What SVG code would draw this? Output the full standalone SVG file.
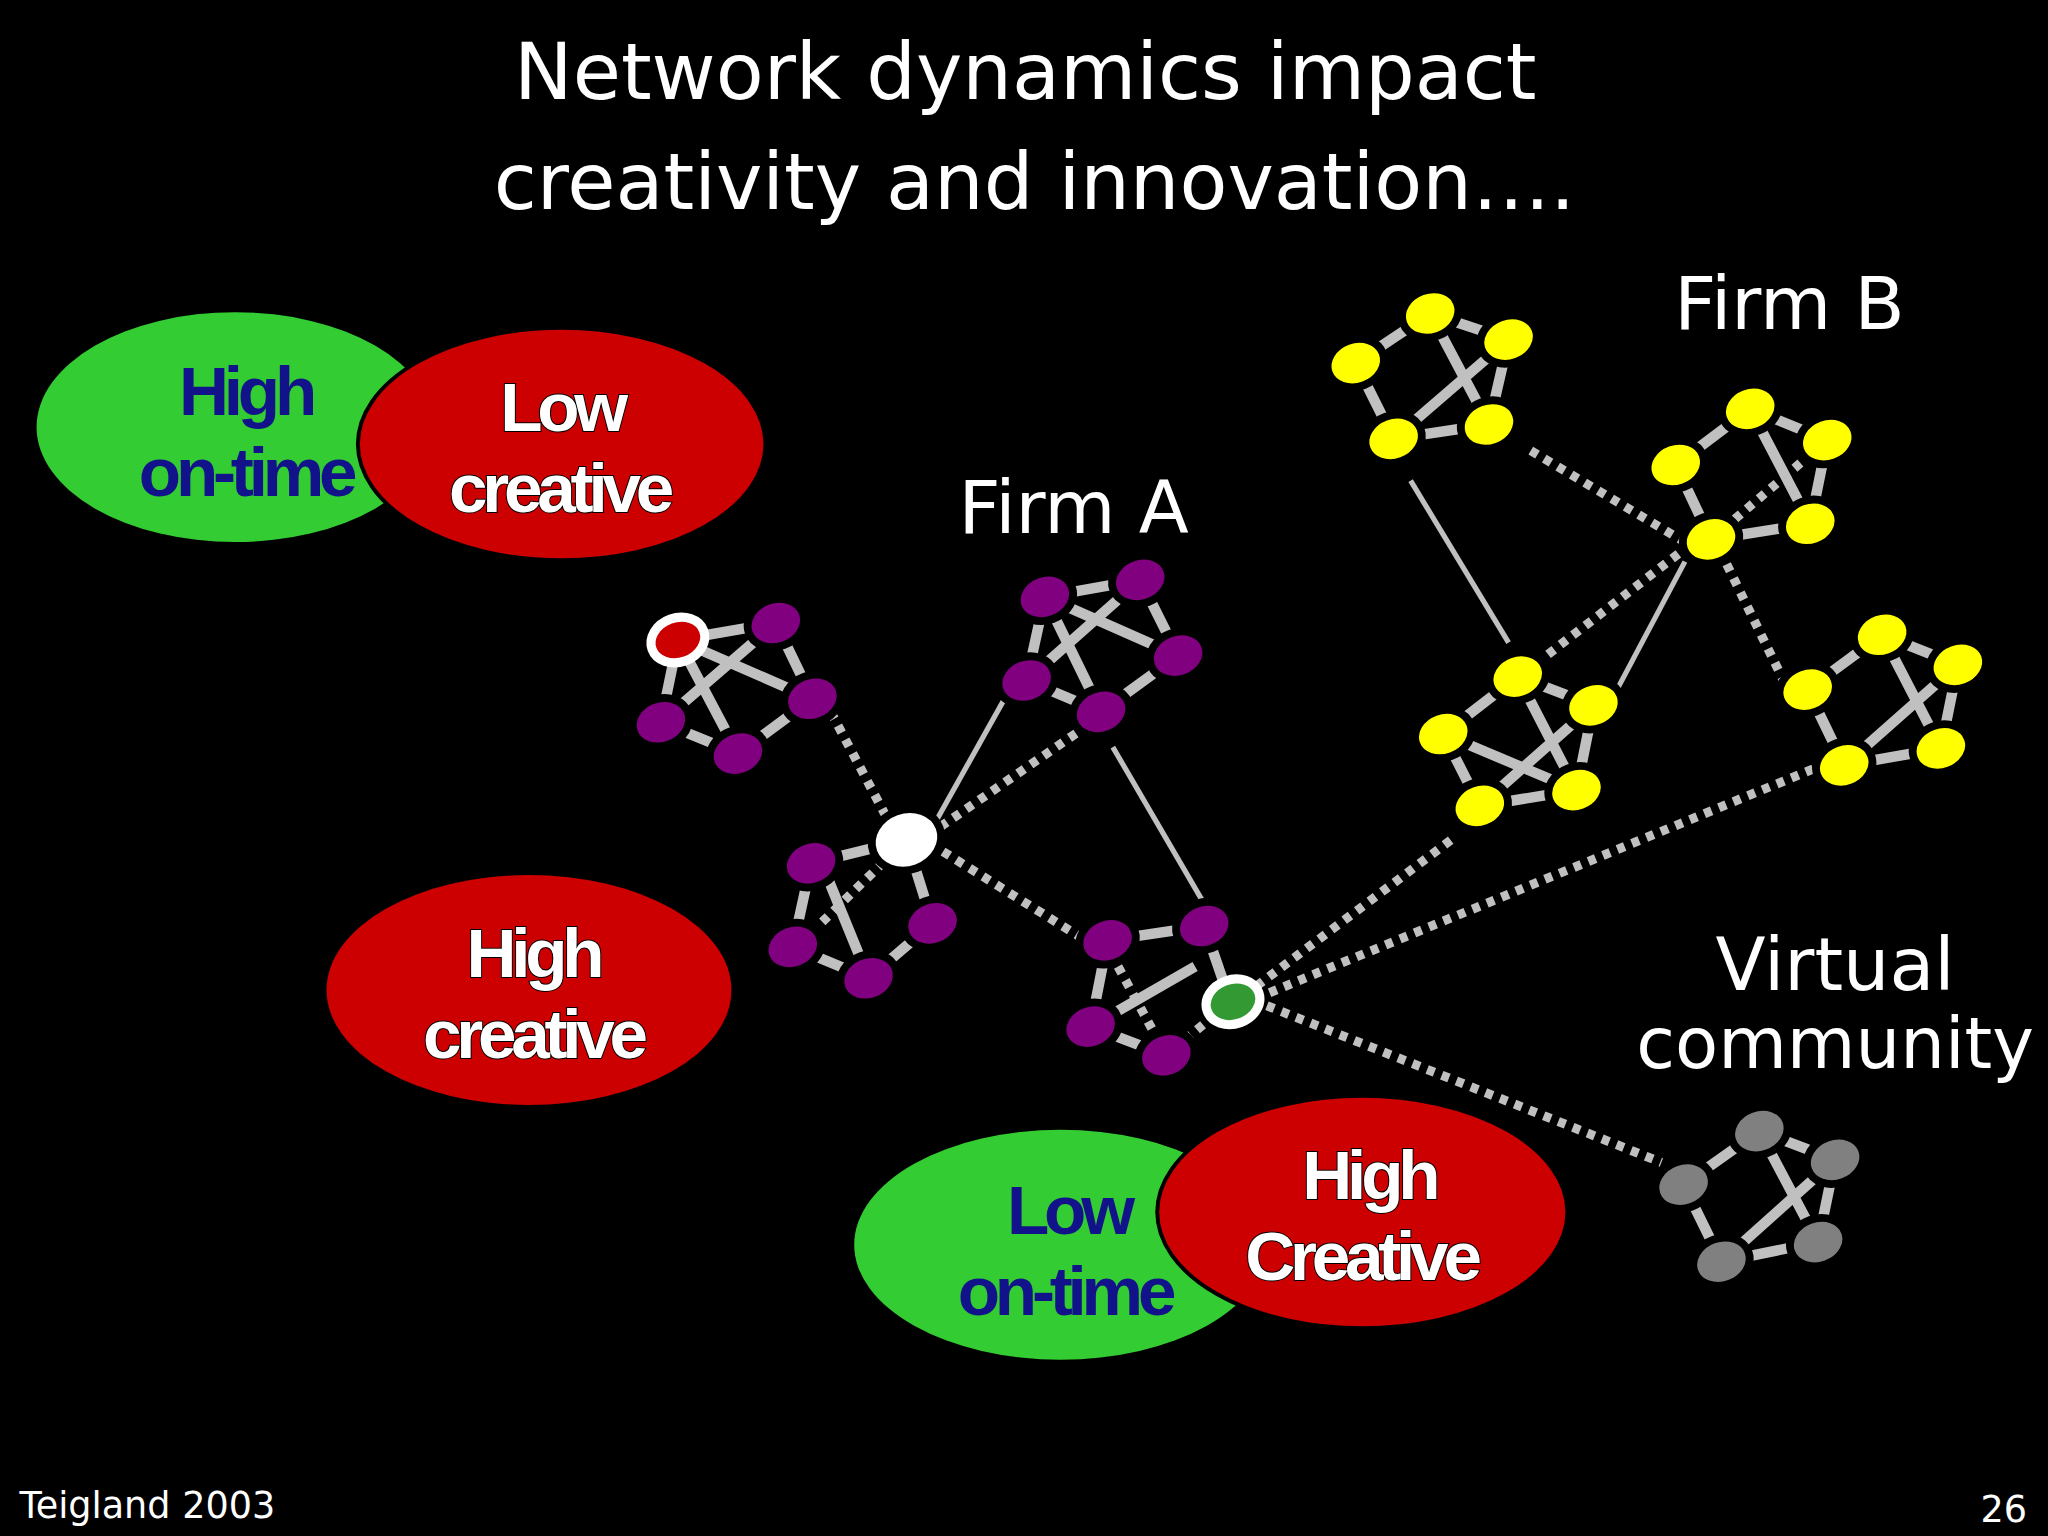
<svg xmlns="http://www.w3.org/2000/svg" width="2048" height="1536" viewBox="0 0 2048 1536">
<style>
.t{font-family:"DejaVu Sans","Liberation Sans",sans-serif;fill:#fff}
.b{font-family:"Liberation Sans",Arial,sans-serif;font-weight:bold;font-size:53px;letter-spacing:-4px;text-anchor:middle}
.w{fill:#fff;stroke:#000;stroke-width:1.5;paint-order:stroke}
.k{fill:#12128a}
.e{stroke:#c0c0c0;stroke-width:8;fill:none}
.s{stroke:#c0c0c0;stroke-width:4;fill:none}
.d{stroke:#c0c0c0;stroke-width:7;stroke-dasharray:6 6;fill:none}
.p{fill:#800080;stroke:#000;stroke-width:6}
.y{fill:#ffff00;stroke:#000;stroke-width:6}
.g{fill:#808080;stroke:#000;stroke-width:6}
</style>
<rect width="2048" height="1536" fill="#000"/>
<g transform="scale(1.30612)">
<g id="title" class="t" font-size="60" text-anchor="middle">
<text x="785" y="76">Network dynamics impact</text>
<text x="792" y="160">creativity and innovation….</text>
</g>
<g id="ovals">
<ellipse cx="180" cy="327" rx="152" ry="88" fill="#33cc33"/>
<ellipse cx="430" cy="340" rx="156" ry="89" fill="#cc0000" stroke="#000" stroke-width="3"/>
<text class="b k" x="188" y="318">High</text><text class="b k" x="188" y="380">on-time</text>
<text class="b w" x="430" y="330">Low</text><text class="b w" x="428" y="392">creative</text>
<ellipse cx="405" cy="758" rx="155" ry="88" fill="#cc0000"/>
<text class="b w" x="408" y="748">High</text><text class="b w" x="408" y="810">creative</text>
<ellipse cx="812" cy="953" rx="158" ry="88" fill="#33cc33"/>
<ellipse cx="1043" cy="928" rx="157" ry="89" fill="#cc0000" stroke="#000" stroke-width="3"/>
<text class="b k" x="818" y="945">Low</text><text class="b k" x="815" y="1007">on-time</text>
<text class="b w" x="1048" y="918">High</text><text class="b w" x="1042" y="980">Creative</text>
</g>
<g id="labels" class="t">
<text x="822" y="408" font-size="56" text-anchor="middle">Firm A</text>
<text x="1370" y="252" font-size="56" text-anchor="middle">Firm B</text>
<text x="1405" y="758" font-size="56" text-anchor="middle">Virtual</text>
<text x="1405" y="818" font-size="54" text-anchor="middle">community</text>
<text x="15" y="1162" font-size="28">Teigland 2003</text>
<text x="1552" y="1165" font-size="28" text-anchor="end">26</text>
</g>
<g id="connectors">
<line class="s" x1="717" y1="628" x2="768" y2="537"/>
<line class="s" x1="852" y1="572" x2="922" y2="692"/>
<line class="s" x1="1080" y1="368" x2="1155" y2="492"/>
<line class="s" x1="1290" y1="430" x2="1238" y2="528"/>
<line class="d" x1="636" y1="545" x2="680" y2="628"/>
<line class="d" x1="720" y1="633" x2="826" y2="560"/>
<line class="d" x1="722" y1="652" x2="828" y2="718"/>
<line class="d" x1="1172" y1="345" x2="1290" y2="415"/>
<line class="d" x1="1285" y1="424" x2="1180" y2="505"/>
<line class="d" x1="1322" y1="432" x2="1365" y2="520"/>
<line class="d" x1="962" y1="755" x2="1115" y2="640"/>
<line class="d" x1="972" y1="760" x2="1390" y2="588"/>
<line class="d" x1="970" y1="770" x2="1272" y2="890"/>
</g>
<g id="cluster-a1">
<path class="e" d="M519,490L594,477L622,535L565,577L506,553ZM519,490L622,535M519,490L565,577M594,477L506,553"/>
<ellipse class="p" cx="594" cy="477" rx="22" ry="18" transform="rotate(-20 594 477)"/>
<ellipse class="p" cx="622" cy="535" rx="22" ry="18" transform="rotate(-20 622 535)"/>
<ellipse class="p" cx="565" cy="577" rx="22" ry="18" transform="rotate(-20 565 577)"/>
<ellipse class="p" cx="506" cy="553" rx="22" ry="18" transform="rotate(-20 506 553)"/>
<ellipse cx="519" cy="490" rx="21" ry="17" fill="#cc0000" stroke="#fff" stroke-width="7" transform="rotate(-20 519 490)"/>
</g>
<g id="cluster-a2">
<path class="e" d="M800,457L873,444L902,502L843,545L786,521ZM800,457L902,502M800,457L843,545M873,444L786,521"/>
<ellipse class="p" cx="800" cy="457" rx="22" ry="18" transform="rotate(-20 800 457)"/>
<ellipse class="p" cx="873" cy="444" rx="22" ry="18" transform="rotate(-20 873 444)"/>
<ellipse class="p" cx="902" cy="502" rx="22" ry="18" transform="rotate(-20 902 502)"/>
<ellipse class="p" cx="843" cy="545" rx="22" ry="18" transform="rotate(-20 843 545)"/>
<ellipse class="p" cx="786" cy="521" rx="22" ry="18" transform="rotate(-20 786 521)"/>
</g>
<g id="cluster-a3">
<path class="e" d="M694,643L621,661L607,725L665,749L714,707ZM632,668L665,749"/>
<path class="d" d="M694,643L615,720"/>
<ellipse class="p" cx="621" cy="661" rx="22" ry="18" transform="rotate(-20 621 661)"/>
<ellipse class="p" cx="607" cy="725" rx="22" ry="18" transform="rotate(-20 607 725)"/>
<ellipse class="p" cx="665" cy="749" rx="22" ry="18" transform="rotate(-20 665 749)"/>
<ellipse class="p" cx="714" cy="707" rx="22" ry="18" transform="rotate(-20 714 707)"/>
<ellipse cx="694" cy="643" rx="27" ry="23" fill="#fff" stroke="#000" stroke-width="6" transform="rotate(-20 694 643)"/>
</g>
<g id="cluster-a4">
<path class="e" d="M848,720L922,709L942,767M893,808L835,786L848,720M835,786L915,740"/>
<path class="d" d="M856,740L893,808L942,767"/>
<ellipse class="p" cx="848" cy="720" rx="22" ry="18" transform="rotate(-20 848 720)"/>
<ellipse class="p" cx="922" cy="709" rx="22" ry="18" transform="rotate(-20 922 709)"/>
<ellipse class="p" cx="893" cy="808" rx="22" ry="18" transform="rotate(-20 893 808)"/>
<ellipse class="p" cx="835" cy="786" rx="22" ry="18" transform="rotate(-20 835 786)"/>
<ellipse cx="944" cy="767" rx="21" ry="17" fill="#339933" stroke="#fff" stroke-width="7" transform="rotate(-20 944 767)"/>
</g>
<g id="cluster-b1">
<path class="e" d="M1095,240L1155,260L1140,325L1067,336L1038,278ZM1095,240L1140,325M1155,260L1067,336"/>
<ellipse class="y" cx="1095" cy="240" rx="22" ry="18" transform="rotate(-20 1095 240)"/>
<ellipse class="y" cx="1155" cy="260" rx="22" ry="18" transform="rotate(-20 1155 260)"/>
<ellipse class="y" cx="1140" cy="325" rx="22" ry="18" transform="rotate(-20 1140 325)"/>
<ellipse class="y" cx="1067" cy="336" rx="22" ry="18" transform="rotate(-20 1067 336)"/>
<ellipse class="y" cx="1038" cy="278" rx="22" ry="18" transform="rotate(-20 1038 278)"/>
</g>
<g id="cluster-b2">
<path class="e" d="M1340,313L1399,337L1386,401L1310,413L1283,356L1340,313M1340,313L1386,401"/>
<path class="d" d="M1310,413L1399,337"/>
<ellipse class="y" cx="1340" cy="313" rx="22" ry="18" transform="rotate(-20 1340 313)"/>
<ellipse class="y" cx="1399" cy="337" rx="22" ry="18" transform="rotate(-20 1399 337)"/>
<ellipse class="y" cx="1386" cy="401" rx="22" ry="18" transform="rotate(-20 1386 401)"/>
<ellipse class="y" cx="1310" cy="413" rx="22" ry="18" transform="rotate(-20 1310 413)"/>
<ellipse class="y" cx="1283" cy="356" rx="22" ry="18" transform="rotate(-20 1283 356)"/>
</g>
<g id="cluster-b3">
<path class="e" d="M1162,518L1220,540L1207,605L1133,617L1105,562ZM1162,518L1207,605M1220,540L1133,617M1105,562L1207,605"/>
<ellipse class="y" cx="1162" cy="518" rx="22" ry="18" transform="rotate(-20 1162 518)"/>
<ellipse class="y" cx="1220" cy="540" rx="22" ry="18" transform="rotate(-20 1220 540)"/>
<ellipse class="y" cx="1207" cy="605" rx="22" ry="18" transform="rotate(-20 1207 605)"/>
<ellipse class="y" cx="1133" cy="617" rx="22" ry="18" transform="rotate(-20 1133 617)"/>
<ellipse class="y" cx="1105" cy="562" rx="22" ry="18" transform="rotate(-20 1105 562)"/>
</g>
<g id="cluster-b4">
<path class="e" d="M1441,486L1499,509L1486,573L1412,586L1384,528ZM1441,486L1486,573M1499,509L1412,586"/>
<ellipse class="y" cx="1441" cy="486" rx="22" ry="18" transform="rotate(-20 1441 486)"/>
<ellipse class="y" cx="1499" cy="509" rx="22" ry="18" transform="rotate(-20 1499 509)"/>
<ellipse class="y" cx="1486" cy="573" rx="22" ry="18" transform="rotate(-20 1486 573)"/>
<ellipse class="y" cx="1412" cy="586" rx="22" ry="18" transform="rotate(-20 1412 586)"/>
<ellipse class="y" cx="1384" cy="528" rx="22" ry="18" transform="rotate(-20 1384 528)"/>
</g>
<g id="cluster-virtual">
<path class="e" d="M1347,866L1405,888L1392,951L1318,966L1289,907ZM1347,866L1392,951M1405,888L1318,966"/>
<ellipse class="g" cx="1347" cy="866" rx="22" ry="18" transform="rotate(-20 1347 866)"/>
<ellipse class="g" cx="1405" cy="888" rx="22" ry="18" transform="rotate(-20 1405 888)"/>
<ellipse class="g" cx="1392" cy="951" rx="22" ry="18" transform="rotate(-20 1392 951)"/>
<ellipse class="g" cx="1318" cy="966" rx="22" ry="18" transform="rotate(-20 1318 966)"/>
<ellipse class="g" cx="1289" cy="907" rx="22" ry="18" transform="rotate(-20 1289 907)"/>
</g>
</g>
</svg>
